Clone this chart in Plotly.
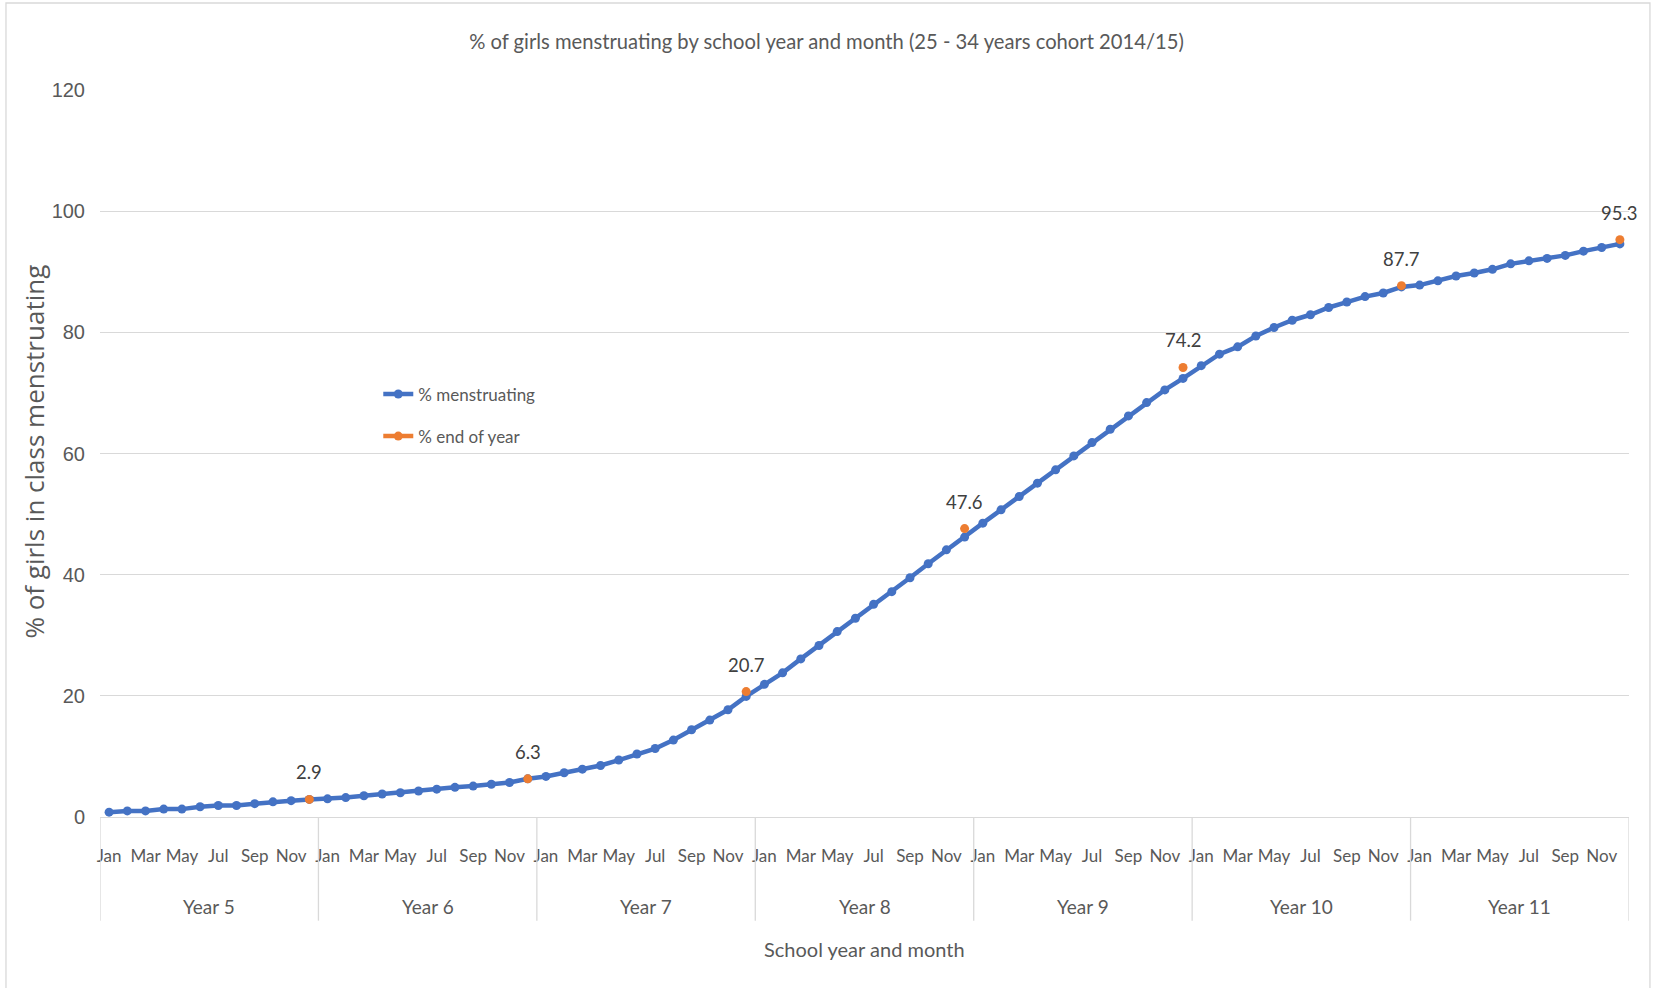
import plotly.graph_objects as go

# Monthly cumulative % of girls menstruating, school years 5-11
years = ["Year 5", "Year 6", "Year 7", "Year 8", "Year 9", "Year 10", "Year 11"]
months = ["Jan", "Feb", "Mar", "Apr", "May", "Jun",
          "Jul", "Aug", "Sep", "Oct", "Nov", "Dec"]

pct_year5 = [0.8, 1.0, 1.0, 1.3, 1.3, 1.7, 1.9, 1.9, 2.2, 2.5, 2.7, 2.9]
pct_year6 = [3.0, 3.2, 3.5, 3.8, 4.0, 4.3, 4.6, 4.9, 5.1, 5.4, 5.7, 6.3]
pct_year7 = [6.7, 7.3, 7.9, 8.5, 9.4, 10.4, 11.3, 12.7, 14.4, 16.0, 17.7, 19.9]
pct_year8 = [21.9, 23.8, 26.1, 28.3, 30.6, 32.8, 35.1, 37.2, 39.5, 41.8, 44.1, 46.2]
pct_year9 = [48.5, 50.7, 52.9, 55.1, 57.3, 59.6, 61.8, 64.0, 66.2, 68.4, 70.5, 72.4]
pct_year10 = [74.5, 76.4, 77.6, 79.4, 80.8, 82.0, 82.9, 84.1, 85.0, 85.9, 86.5, 87.5]
pct_year11 = [87.8, 88.5, 89.3, 89.8, 90.4, 91.3, 91.8, 92.2, 92.7, 93.4, 94.0, 94.6]

# Value at the end of each school year
end_of_year = [2.9, 6.3, 20.7, 47.6, 74.2, 87.7, 95.3]

monthly = (pct_year5 + pct_year6 + pct_year7 + pct_year8
           + pct_year9 + pct_year10 + pct_year11)
n_months = len(monthly)
x_idx = list(range(n_months))

# end-of-year series: only December carries a value
end_series = [None] * n_months
for k, v in enumerate(end_of_year):
    end_series[12 * k + 11] = v

BLUE = "#4472C4"
ORANGE = "#ED7D31"
GRID = "#D9D9D9"
TEXT = "#595959"
FONT = "Lato, Liberation Sans, sans-serif"

fig = go.Figure()
fig.add_trace(go.Scatter(
    x=x_idx, y=monthly, name="% menstruating", legendgroup="a",
    mode="lines+markers",
    line=dict(color=BLUE, width=4.5),
    marker=dict(color=BLUE, size=9),
))
fig.add_trace(go.Scatter(
    x=x_idx, y=end_series, name="% end of year", legendgroup="b",
    mode="lines+markers", connectgaps=False,
    line=dict(color=ORANGE, width=4.5),
    marker=dict(color=ORANGE, size=9),
))

annotations = []
# data labels above the end-of-year points
for i, v in enumerate(end_series):
    if v is not None:
        annotations.append(dict(
            x=i, y=v, xref="x", yref="y", text=f"{v}", showarrow=False,
            yshift=27, font=dict(family=FONT, size=18.5, color="#404040"),
        ))
# school year group labels under the month labels
for k, yr in enumerate(years):
    annotations.append(dict(
        x=12 * k + 5.5, y=-0.123, xref="x", yref="paper", text=yr,
        showarrow=False, yanchor="middle",
        font=dict(family=FONT, size=19, color=TEXT),
    ))
# axis titles
annotations.append(dict(
    x=0.5, y=-0.1816, xref="paper", yref="paper",
    text="School year and month", showarrow=False, yanchor="middle",
    font=dict(family=FONT, size=20, color=TEXT),
))
annotations.append(dict(
    x=-0.043, y=0.503, xref="paper", yref="paper",
    text="% of girls in class menstruating", showarrow=False,
    textangle=-90, xanchor="center", yanchor="middle",
    font=dict(family="Open Sans, sans-serif", size=26, color=TEXT),
))

shapes = []
# year group dividers
for k in range(len(years) + 1):
    shapes.append(dict(
        type="line", xref="x", yref="paper",
        x0=12 * k - 0.5, x1=12 * k - 0.5, y0=0, y1=-0.1426,
        line=dict(color=GRID, width=1.3),
    ))
# chart frame
shapes.append(dict(
    type="rect", xref="paper", yref="paper",
    x0=-0.0615, x1=1.0137, y0=-0.4, y1=1.1197,
    line=dict(color=GRID, width=1.3), layer="below",
))

tick_vals = x_idx[::2]
tick_text = [months[i % 12] for i in tick_vals]

fig.update_layout(
    width=1653, height=988,
    margin=dict(l=100, r=24, t=90, b=171),
    paper_bgcolor="white", plot_bgcolor="white",
    title=dict(
        text="% of girls menstruating by school year and month (25 - 34 years cohort 2014/15)",
        x=0.5, xref="container", xanchor="center",
        y=1 - 42 / 988, yref="container", yanchor="middle",
        font=dict(family=FONT, size=20.2, color=TEXT),
    ),
    xaxis=dict(
        range=[-0.5, n_months - 0.5], showgrid=False, zeroline=False,
        tickmode="array", tickvals=tick_vals, ticktext=tick_text,
        ticks="", ticklabelstandoff=23, tickangle=0,
        tickfont=dict(family=FONT, size=17, color=TEXT),
        showline=True, linecolor=GRID, linewidth=1.3,
    ),
    yaxis=dict(
        range=[0, 120], dtick=20, showgrid=True, gridcolor=GRID,
        gridwidth=1.3, zeroline=True, zerolinecolor=GRID, zerolinewidth=1.3,
        ticks="", ticklabelstandoff=14,
        tickfont=dict(family="Liberation Sans, sans-serif", size=20, color=TEXT),
    ),
    legend=dict(
        x=0.182, y=0.606, xanchor="left", yanchor="top",
        bgcolor="rgba(0,0,0,0)", tracegroupgap=17,
        font=dict(family=FONT, size=17, color=TEXT),
    ),
    annotations=annotations,
    shapes=shapes,
    showlegend=True,
)

fig.write_html("out.html")
